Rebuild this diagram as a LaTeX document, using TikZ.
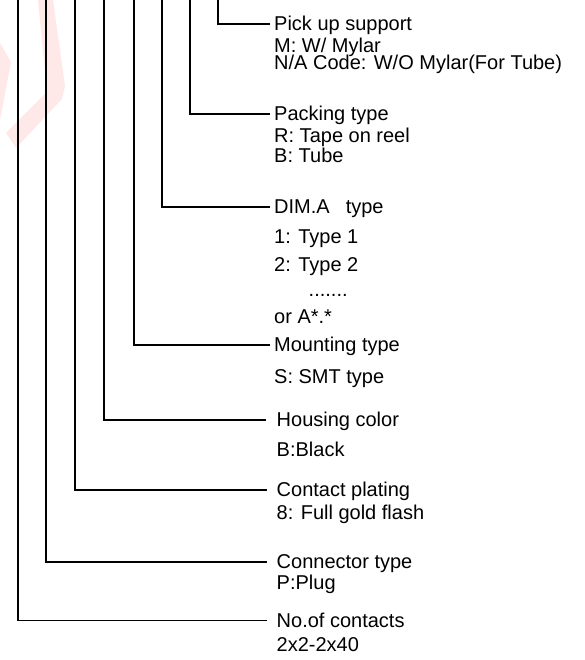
\documentclass[tikz,border=0pt]{standalone}
\usepackage{fontspec}
\setmainfont{Liberation Sans}

\begin{document}
\begin{tikzpicture}[x=1pt, y=-1pt, line width=1.4pt,
    title/.style={anchor=west, inner sep=0pt, font=\fontsize{20}{22}\selectfont,
      text height=13pt, text depth=0pt},
    entry/.style={anchor=base west, inner sep=0pt, font=\fontsize{20}{22}\selectfont}]
  % Part number code explanation

  \useasboundingbox (0,0) rectangle (585,660);

  % Faint watermark
  \fill[red!9] (38,0) -- (53,0) -- (65,86) -- (62,99) -- (16,148) -- (6,133) -- (47,92) -- cycle;
  \fill[red!9] (0,43) -- (11,62) -- (0,120) -- cycle;

  % Tops of the code lines
  \coordinate (c1) at (218,0);
  \coordinate (c2) at (190,0);
  \coordinate (c3) at (162,0);
  \coordinate (c4) at (134,0);
  \coordinate (c5) at (104,0);
  \coordinate (c6) at (75,0);
  \coordinate (c7) at (46,0);
  \coordinate (c8) at (18,0);

  % Pick up support
  \node[title] (pick) at (273.5,24) {Pick up support};
  \node[entry] (pickM) at (273.5,52.5) {M: W/ Mylar};
  \node[entry] (pickNA) at (273.5,69.5) {N/A Code: W/O Mylar(For Tube)};

  % Packing type
  \node[title] (pack) at (273.5,114) {Packing type};
  \node[entry] (packR) at (273.5,143) {R: Tape on reel};
  \node[entry] (packB) at (273.5,163) {B: Tube};

  % DIM.A type
  \node[title] (dima) at (273.5,207) {DIM.A\hspace{0.8em}type};
  \node[entry] (dima1) at (273.5,243) {1: Type 1};
  \node[entry] (dima2) at (273.5,271) {2: Type 2};
  \node[entry] (dimaDots) at (308,296) {.......};
  \node[entry] (dimaOr) at (273.5,323) {or A*.*};

  % Mounting type
  \node[title] (mount) at (273.5,345) {Mounting type};
  \node[entry] (mountS) at (273.5,383) {S: SMT type};

  % Housing color
  \node[title] (house) at (276,420) {Housing color};
  \node[entry] (houseB) at (276,456) {B:Black};

  % Contact plating
  \node[title] (plate) at (276,490) {Contact plating};
  \node[entry] (plate8) at (276,519) {8: Full gold flash};

  % Connector type
  \node[title] (conn) at (276,562) {Connector type};
  \node[entry] (connP) at (276,589) {P:Plug};

  % No. of contacts
  \node[title] (pins) at (276,620.5) {No.of contacts};
  \node[entry] (pinsN) at (276,651) {2x2-2x40};

  % Code lines
  \draw (c1) |- ([xshift=-3.5pt]pick.west);
  \draw (c2) |- ([xshift=-3.5pt]pack.west);
  \draw (c3) |- ([xshift=-3.5pt]dima.west);
  \draw (c4) |- ([xshift=-3.5pt]mount.west);
  \draw (c5) |- ([xshift=-10pt]house.west);
  \draw (c6) |- ([xshift=-9pt]plate.west);
  \draw (c7) |- ([xshift=-9pt]conn.west);
  \draw (c8) |- ([xshift=-9pt]pins.west);
\end{tikzpicture}
\end{document}
